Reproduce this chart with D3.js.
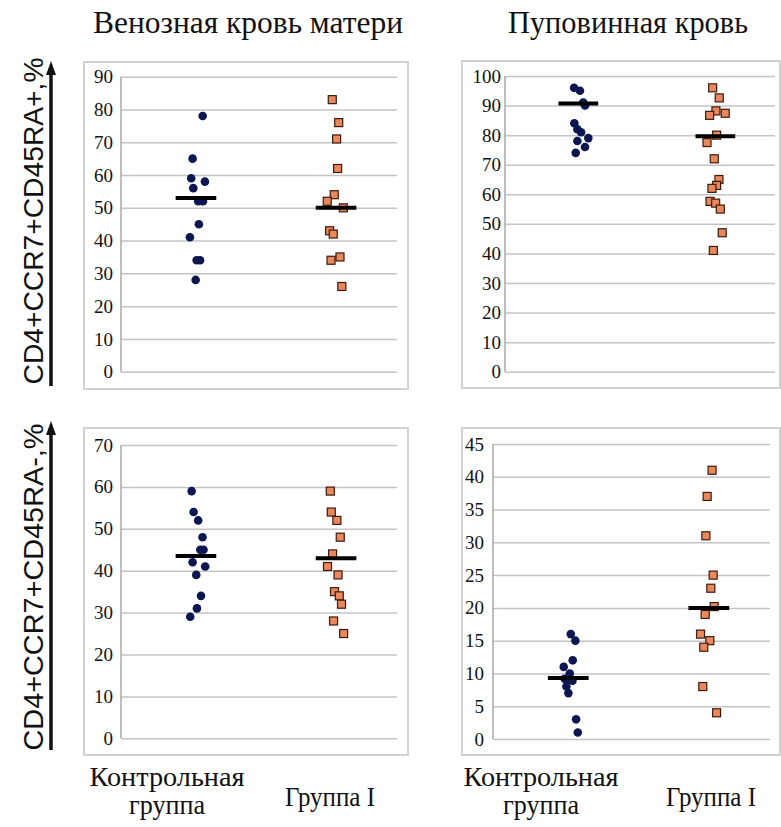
<!DOCTYPE html>
<html>
<head>
<meta charset="utf-8">
<script src="https://cdn.jsdelivr.net/npm/d3@7"></script>
<style>
  body { margin: 0; background: #fff; }
  svg { display: block; }
</style>
</head>
<body>
<svg id="chart"></svg>
<script>
// ---- data ----
var panelTitles = ["Венозная кровь матери", "Пуповинная кровь"]
var yLabels = ["CD4+CCR7+CD45RA+,%", "CD4+CCR7+CD45RA-,%"]
var groupLabels = [["Контрольная", "группа"], ["Группа I"]]

// y axis: [max, step] per panel
var p1Ticks = [90, 10]
var p2Ticks = [100, 10]
var p3Ticks = [70, 10]
var p4Ticks = [45, 5]

// top left: maternal venous blood, CD45RA+
var p1Control = [78, 65, 59, 58, 56, 52, 52, 45, 41, 34, 34, 28]
var p1ControlJit = [0.048, -0.024, -0.034, 0.064, -0.019, 0.016, 0.050, 0.021, -0.043, 0.005, 0.029, -0.002]
var p1Group = [83, 76, 71, 62, 54, 52, 50, 43, 42, 35, 34, 26]
var p1GroupJit = [-0.027, 0.019, 0.004, 0.011, -0.013, -0.063, 0.052, -0.046, -0.020, 0.028, -0.036, 0.041]
var p1Median = [53, 50]

// top right: cord blood, CD45RA+
var p2Control = [96, 95, 91, 90, 84, 82, 81, 79, 78, 76, 74]
var p2ControlJit = [-0.031, 0.012, 0.036, 0.049, -0.029, -0.007, 0.020, 0.073, -0.007, 0.049, -0.019]
var p2Group = [96, 92.6, 88.2, 87.4, 86.7, 80, 77.5, 72, 65, 63, 62, 57.6, 57, 55, 47, 41]
var p2GroupJit = [-0.020, 0.028, 0.004, 0.072, -0.042, 0.009, -0.061, -0.008, 0.026, 0.009, -0.025, -0.039, 0.002, 0.036, 0.050, -0.015]
var p2Median = [90.7, 79.6]

// bottom left: maternal venous blood, CD45RA-
var p3Control = [59, 54, 52, 48, 45, 45, 42, 41, 39, 34, 31, 29]
var p3ControlJit = [-0.031, -0.017, 0.016, 0.047, 0.031, 0.054, -0.024, 0.066, 0.002, 0.036, 0.007, -0.041]
var p3Group = [59, 54, 52, 48, 44, 41, 39, 35, 34, 32, 28, 25]
var p3GroupJit = [-0.041, -0.034, 0.006, 0.030, -0.025, -0.061, 0.014, -0.011, 0.023, 0.039, -0.018, 0.054]
var p3Median = [43.5, 43.0]

// bottom right: cord blood, CD45RA-
var p4Control = [16, 15, 12, 11, 10, 9.2, 9, 8.9, 8, 7, 3, 1]
var p4ControlJit = [0.018, 0.051, 0.032, -0.032, 0.011, -0.025, -0.013, 0.030, -0.013, 0.001, 0.056, 0.068]
var p4Group = [41, 37, 31, 25, 23, 20.2, 19, 16, 15, 14, 8, 4]
var p4GroupJit = [0.023, -0.012, -0.021, 0.031, 0.014, 0.038, -0.026, -0.059, 0.007, -0.036, -0.043, 0.055]
var p4Median = [9.3, 20.0]

// ---- layout ----
var width = 781, height = 827
var svg = d3.select("#chart").attr("width", width).attr("height", height)

var panels = [
  { box: [84, 62, 324, 327], plot: [121, 397, 76.7, 371.7], labelGap: 8,
    ticks: p1Ticks, control: p1Control, controlJit: p1ControlJit, group: p1Group, groupJit: p1GroupJit, median: p1Median },
  { box: [462, 61, 318, 327], plot: [505, 775, 76, 371.7], labelGap: 4,
    ticks: p2Ticks, control: p2Control, controlJit: p2ControlJit, group: p2Group, groupJit: p2GroupJit, median: p2Median },
  { box: [84, 428, 324, 327], plot: [121, 397, 445, 738.3], labelGap: 8,
    ticks: p3Ticks, control: p3Control, controlJit: p3ControlJit, group: p3Group, groupJit: p3GroupJit, median: p3Median },
  { box: [462, 428, 318, 327], plot: [493, 770, 444, 739], labelGap: 9,
    ticks: p4Ticks, control: p4Control, controlJit: p4ControlJit, group: p4Group, groupJit: p4GroupJit, median: p4Median }
]

var serif = "'Liberation Serif', 'Times New Roman', serif"

panels.forEach(function(p) {
  var g = svg.append("g")

  g.append("rect")
    .attr("x", p.box[0]).attr("y", p.box[1])
    .attr("width", p.box[2]).attr("height", p.box[3])
    .attr("fill", "#fff")
    .attr("stroke", "#d2d2d2")
    .attr("stroke-width", 2)

  var xScale = d3.scaleLinear()
    .domain([0.465, 2.435])
    .range([p.plot[0], p.plot[1]])

  var yScale = d3.scaleLinear()
    .domain([0, p.ticks[0]])
    .range([p.plot[3], p.plot[2]])

  var tickVals = d3.range(0, p.ticks[0] + 0.001, p.ticks[1])

  // gridlines
  var yGrid = d3.axisLeft(yScale)
    .tickValues(tickVals)
    .tickSize(-(p.plot[1] - p.plot[0]))
    .tickFormat("")
  g.append("g")
    .attr("transform", "translate(" + p.plot[0] + ",0)")
    .call(yGrid)
    .call(function(a) { a.select(".domain").remove() })
    .selectAll("line")
    .attr("stroke", "#c4c4c4")
    .attr("stroke-width", 1.5)

  // vertical axis line
  g.append("line")
    .attr("x1", p.plot[0]).attr("x2", p.plot[0])
    .attr("y1", yScale(p.ticks[0])).attr("y2", yScale(0))
    .attr("stroke", "#a8a8a8")
    .attr("stroke-width", 1.5)

  // tick labels
  var yAxisGen = d3.axisLeft(yScale)
    .tickValues(tickVals)
    .tickSize(0)
    .tickPadding(p.labelGap)
  g.append("g")
    .attr("transform", "translate(" + p.plot[0] + ",0)")
    .call(yAxisGen)
    .attr("font-family", null)
    .call(function(a) { a.select(".domain").remove() })
    .selectAll("text")
    .attr("fill", "#111")
    .style("font-family", serif)
    .style("font-size", "19px")

  // control group: dark blue dots
  g.append("g")
    .selectAll("circle")
    .data(p.control)
    .enter()
    .append("circle")
    .attr("cx", (d, i) => xScale(1 + p.controlJit[i]))
    .attr("cy", d => yScale(d))
    .attr("r", 4.3)
    .attr("fill", "#0c1752")

  // group I: orange squares
  var s = 8
  g.append("g")
    .selectAll("rect")
    .data(p.group)
    .enter()
    .append("rect")
    .attr("x", (d, i) => xScale(2 + p.groupJit[i]) - s / 2)
    .attr("y", d => yScale(d) - s / 2)
    .attr("width", s)
    .attr("height", s)
    .attr("fill", "#e8885c")
    .attr("stroke", "#3a1a0c")
    .attr("stroke-width", 1.2)

  // medians
  g.append("g")
    .selectAll("line")
    .data(p.median)
    .enter()
    .append("line")
    .attr("x1", (d, i) => xScale(i + 1 - 0.145))
    .attr("x2", (d, i) => xScale(i + 1 + 0.145))
    .attr("y1", d => yScale(d))
    .attr("y2", d => yScale(d))
    .attr("stroke", "#000")
    .attr("stroke-width", 4)
})

// column titles
var titleX = [248, 628]
var titleLen = [310, 240]
svg.selectAll(".title")
  .data(panelTitles)
  .enter()
  .append("text")
  .attr("class", "title")
  .attr("x", (d, i) => titleX[i])
  .attr("y", 33)
  .attr("text-anchor", "middle")
  .attr("textLength", (d, i) => titleLen[i])
  .attr("lengthAdjust", "spacingAndGlyphs")
  .style("font-family", serif)
  .style("font-size", "31px")
  .attr("fill", "#111")
  .text(d => d)

// y labels with arrows
var arrowSpans = [[386, 61], [750, 421]]
arrowSpans.forEach(function(a) {
  svg.append("line")
    .attr("x1", 51).attr("x2", 51)
    .attr("y1", a[0]).attr("y2", a[1] + 10)
    .attr("stroke", "#111")
    .attr("stroke-width", 3.5)
  svg.append("path")
    .attr("d", "M" + 46 + "," + (a[1] + 14) + " L51," + a[1] + " L56," + (a[1] + 14) + " Z")
    .attr("fill", "#111")
})

var labelMid = [221, 587]
svg.selectAll(".ylab")
  .data(yLabels)
  .enter()
  .append("text")
  .attr("class", "ylab")
  .attr("transform", (d, i) => "translate(43," + labelMid[i] + ") rotate(-90)")
  .attr("text-anchor", "middle")
  .style("font-family", "'Liberation Sans', Arial, sans-serif")
  .style("font-size", "28px")
  .attr("textLength", 327)
  .attr("lengthAdjust", "spacingAndGlyphs")
  .attr("fill", "#111")
  .text(d => d)

// group labels under both columns
var groupX = [[167, 330], [541, 711]]
var lineLen = [[155, 76], [90]]
groupX.forEach(function(col) {
  groupLabels.forEach(function(lines, gi) {
    var t = svg.append("text")
      .attr("text-anchor", "middle")
      .style("font-family", serif)
      .style("font-size", "28px")
      .attr("fill", "#111")
    if (lines.length == 2) {
      t.append("tspan").attr("x", col[gi]).attr("y", 786)
        .attr("textLength", lineLen[gi][0]).attr("lengthAdjust", "spacingAndGlyphs").text(lines[0])
      t.append("tspan").attr("x", col[gi]).attr("y", 814)
        .attr("textLength", lineLen[gi][1]).attr("lengthAdjust", "spacingAndGlyphs").text(lines[1])
    } else {
      t.append("tspan").attr("x", col[gi]).attr("y", 806)
        .attr("textLength", lineLen[gi][0]).attr("lengthAdjust", "spacingAndGlyphs").text(lines[0])
    }
  })
})
</script>
</body>
</html>
